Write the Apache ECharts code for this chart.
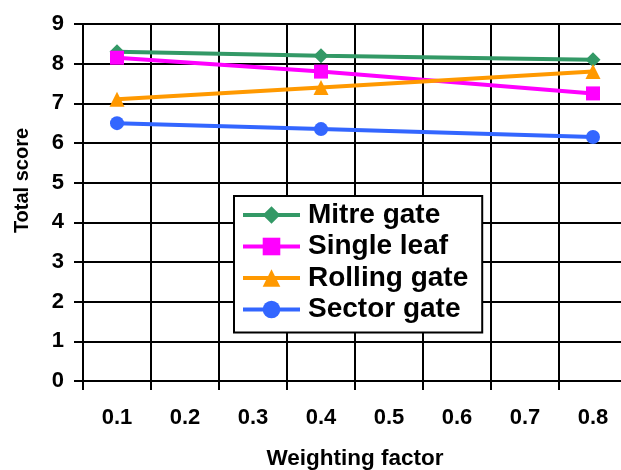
<!DOCTYPE html>
<html>
<head>
<meta charset="utf-8">
<script src="https://cdn.jsdelivr.net/npm/echarts@6/dist/echarts.min.js"></script>
<style>
  html, body { margin: 0; padding: 0; background: #fff; }
  #chart { width: 621px; height: 470px; }
</style>
</head>
<body>
<div id="chart"></div>
<script>
// Weighting factor categories and total scores per gate type
var categories = ['0.1', '0.2', '0.3', '0.4', '0.5', '0.6', '0.7', '0.8'];
var mitreGate   = [8.3,  null, null, 8.2,  null, null, null, 8.1];
var singleLeaf  = [8.15, null, null, 7.8,  null, null, null, 7.25];
var rollingGate = [7.1,  null, null, 7.4,  null, null, null, 7.8];
var sectorGate  = [6.5,  null, null, 6.35, null, null, null, 6.15];
var yTicks = [0, 1, 2, 3, 4, 5, 6, 7, 8, 9];

var FONT = 'Arial, "Liberation Sans", sans-serif';

function gateSeries(name, data, color, symbol, size) {
  return {
    name: name,
    type: 'line',
    data: data,
    connectNulls: true,
    symbol: symbol,
    symbolSize: size,
    showAllSymbol: true,
    lineStyle: { color: color, width: 4 },
    itemStyle: { color: color },
    animation: false
  };
}

var gridLine = { color: '#000', width: 2, opacity: 1, type: 'solid' };

var chart = echarts.init(document.getElementById('chart'));
chart.setOption({
  animation: false,
  grid: { left: 83, top: 24, width: 544, height: 357, containLabel: false, outerBoundsMode: 'none' },
  xAxis: {
    type: 'category',
    data: categories,
    boundaryGap: true,
    name: 'Weighting factor',
    nameLocation: 'middle',
    nameGap: 66,
    nameTextStyle: { fontFamily: FONT, fontWeight: 'bold', fontSize: 22.5, color: '#000' },
    axisLine: { show: true, lineStyle: { color: '#000', width: 2 } },
    axisTick: { show: true, interval: 0, length: 9, lineStyle: { color: '#000', width: 2 } },
    axisLabel: { interval: 0, margin: 26, fontFamily: FONT, fontWeight: 'bold', fontSize: 22, color: '#000' },
    splitLine: { show: true, interval: 0, showMinLine: true, showMaxLine: true, lineStyle: gridLine }
  },
  yAxis: {
    type: 'value',
    min: yTicks[0],
    max: yTicks[yTicks.length - 1],
    interval: 1,
    name: 'Total score',
    nameLocation: 'middle',
    nameGap: 51,
    nameTextStyle: { fontFamily: FONT, fontWeight: 'bold', fontSize: 20, color: '#000', padding: [0, 0, 0, 44] },
    axisLine: { show: true, lineStyle: { color: '#000', width: 2 } },
    axisTick: { show: true, length: 9, lineStyle: { color: '#000', width: 2 } },
    axisLabel: { margin: 19, fontFamily: FONT, fontWeight: 'bold', fontSize: 22, color: '#000' },
    splitLine: { show: true, showMinLine: true, showMaxLine: true, lineStyle: gridLine }
  },
  legend: {
    orient: 'vertical',
    left: 234,
    top: 196,
    backgroundColor: '#fff',
    borderColor: '#000',
    borderWidth: 2,
    borderRadius: 0,
    padding: [5, 14, 9, 7],
    itemWidth: 57,
    itemHeight: 22,
    itemGap: 3.5,
    lineStyle: { width: 4 },
    textStyle: { fontFamily: FONT, fontWeight: 'bold', fontSize: 28, lineHeight: 28, color: '#000', padding: [0, 0, 0, 3] },
    data: ['Mitre gate', 'Single leaf', 'Rolling gate', 'Sector gate']
  },
  series: [
    gateSeries('Mitre gate', mitreGate, '#339966', 'diamond', 15),
    gateSeries('Single leaf', singleLeaf, '#FF00FF', 'rect', 14),
    gateSeries('Rolling gate', rollingGate, '#FF9900', 'triangle', 15),
    gateSeries('Sector gate', sectorGate, '#3366FF', 'circle', 14)
  ]
});
</script>
</body>
</html>
